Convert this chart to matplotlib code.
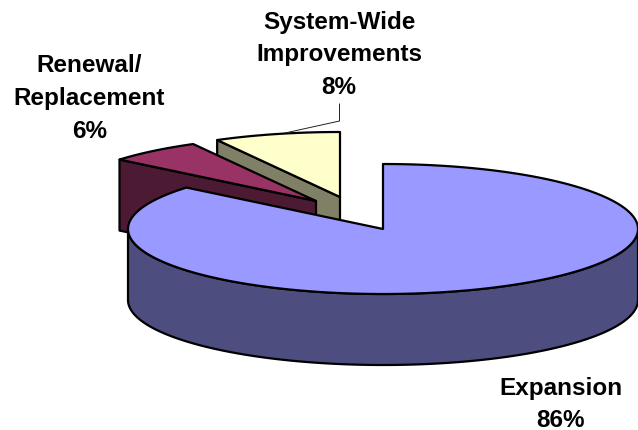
import numpy as np
import matplotlib
matplotlib.use('Agg')
import matplotlib.pyplot as plt
from matplotlib.patches import Polygon

categories = ['Expansion', 'Renewal/\nReplacement', 'System-Wide\nImprovements']
shares = [86, 6, 8]
top_colors = ['#9999FF', '#993366', '#FFFFCC']
side_colors = ['#4D4D80', '#4D1A33', '#808066']

# layout in pixels
RX, RY, DEPTH = 255, 65, 71
apexes = [(383, 230), (316, 202), (340, 198)]
label_xy = [(560.5, 404.5), (89.5, 98.5), (339, 55)]

fig = plt.figure(figsize=(6.38, 4.31), dpi=100)
ax = fig.add_axes([0, 0, 1, 1])
ax.set_xlim(0, 638)
ax.set_ylim(431, 0)
ax.axis('off')

edges = np.cumsum([0] + shares) / sum(shares) * 2 * np.pi


def rim(cx, cy, a, b, n=200):
    t = np.linspace(a, b, n)
    return np.column_stack([cx + RX * np.sin(t), cy - RY * np.cos(t)])


def face(xy, color, z):
    ax.add_patch(Polygon(xy, closed=True, facecolor=color, edgecolor='black',
                         linewidth=1.6, joinstyle='round', zorder=z, clip_on=False))


# exploded slices, back to front: side wall along the first radial edge, then top
for i, z in ((2, 2), (1, 4)):
    cx, cy = apexes[i]
    outer = rim(cx, cy, edges[i], edges[i + 1])
    start = outer[0]
    wall = np.array([start, (cx, cy), (cx, cy + DEPTH), (start[0], start[1] + DEPTH)])
    face(wall, side_colors[i], z)
    face(np.vstack([[(cx, cy)], outer]), top_colors[i], z + 1)

# main slice: front rim, then top
cx, cy = apexes[0]
front = rim(cx, cy, np.pi / 2, 3 * np.pi / 2)
wall = np.vstack([front, front[::-1] + (0, DEPTH)])
face(wall, side_colors[0], 6)
face(np.vstack([[(cx, cy)], rim(cx, cy, edges[0], edges[1], 400)]), top_colors[0], 7)

# leader line
ax.plot([339.5, 339.5, 285], [105, 122, 134], color='#222222', lw=0.7, zorder=8)

for name, val, (x, y) in zip(categories, shares, label_xy):
    ax.text(x, y, f'{name}\n{val}%', ha='center', va='center', ma='center',
            family='Liberation Sans', weight='bold', fontsize=17.5, linespacing=1.53,
            color='black', zorder=9)

fig.savefig('out.png', dpi=100)
